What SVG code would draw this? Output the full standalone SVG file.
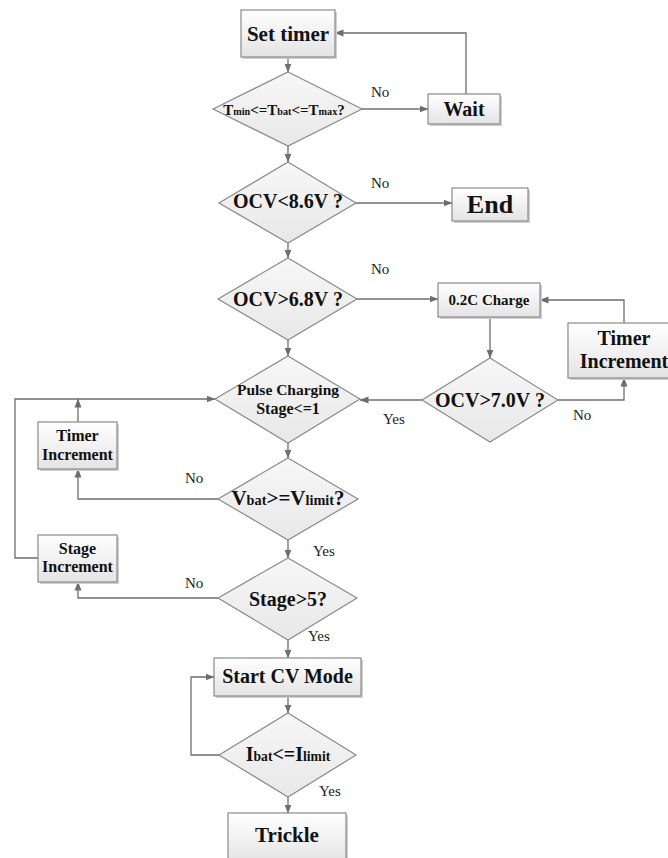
<svg xmlns="http://www.w3.org/2000/svg" width="668" height="858" viewBox="0 0 668 858">
<defs>
<linearGradient id="gb" x1="0" y1="0" x2="0" y2="1">
<stop offset="0" stop-color="#ffffff"/>
<stop offset="1" stop-color="#e4e4e4"/>
</linearGradient>
<linearGradient id="gd" x1="0" y1="0" x2="0" y2="1">
<stop offset="0" stop-color="#f7f7f7"/>
<stop offset="1" stop-color="#e8e8e8"/>
</linearGradient>
<marker id="ah" markerWidth="9" markerHeight="8" refX="8.5" refY="4" orient="auto" markerUnits="userSpaceOnUse">
<path d="M0,0.5 L9,4 L0,7.5 Z" fill="#6e6e6e"/>
</marker>
</defs>
<style>
.box{fill:url(#gb);stroke:#8a8a8a;stroke-width:1.2}
.sh{fill:#d0d0d0}
.dia{fill:url(#gd);stroke:#8a8a8a;stroke-width:1.2}
.c{fill:none;stroke:#6e6e6e;stroke-width:1.3;marker-end:url(#ah)}
.t{font-family:"Liberation Serif","Times New Roman",serif;font-weight:bold;fill:#111;text-anchor:middle}
.l{font-family:"Liberation Serif","Times New Roman",serif;font-size:15px;fill:#222}
.s{font-size:0.68em}
</style>
<rect width="668" height="858" fill="#ffffff"/>

<g id="connectors">
<path class="c" d="M288,57 V72"/>
<path class="c" d="M362,109 H428"/>
<path class="c" d="M466,94 V33 H335"/>
<path class="c" d="M288,146 V162"/>
<path class="c" d="M356,203 H452"/>
<path class="c" d="M288,243 V258"/>
<path class="c" d="M357,299 H438"/>
<path class="c" d="M490,317 V358"/>
<path class="c" d="M558,400 H624 V378"/>
<path class="c" d="M624,323 V300 H540"/>
<path class="c" d="M422,400 H360"/>
<path class="c" d="M288,340 V356"/>
<path class="c" d="M288,443 V458"/>
<path class="c" d="M218,499 H78 V469"/>
<path class="c" d="M78,422 V399"/>
<path class="c" d="M38,558 H15 V399 H215"/>
<path class="c" d="M288,540 V558"/>
<path class="c" d="M218,598 H78 V582"/>
<path class="c" d="M288,640 V658"/>
<path class="c" d="M288,696 V713"/>
<path class="c" d="M219,755 H191 V677 H214"/>
<path class="c" d="M288,797 V813"/>
</g>

<g id="labels">
<text class="l" x="371" y="97">No</text>
<text class="l" x="371" y="188">No</text>
<text class="l" x="371" y="274">No</text>
<text class="l" x="573" y="420">No</text>
<text class="l" x="383" y="424">Yes</text>
<text class="l" x="185" y="483">No</text>
<text class="l" x="313" y="556">Yes</text>
<text class="l" x="185" y="588">No</text>
<text class="l" x="308" y="641">Yes</text>
<text class="l" x="319" y="796">Yes</text>
</g>

<g id="set-timer">
<rect class="sh" x="243" y="12" width="94" height="47"/>
<rect class="box" x="241" y="10" width="94" height="47"/>
<text class="t" x="288" y="41" font-size="21">Set timer</text>
</g>

<g id="temp-check">
<polygon class="dia" points="288,72 362,109 288,146 213,109"/>
<text class="t" x="284" y="115" font-size="15">T<tspan class="s">min</tspan>&lt;=T<tspan class="s">bat</tspan>&lt;=T<tspan class="s">max</tspan>?</text>
</g>

<g id="wait">
<rect class="sh" x="430" y="96" width="72" height="30"/>
<rect class="box" x="428" y="94" width="72" height="30"/>
<text class="t" x="464" y="116" font-size="20">Wait</text>
</g>

<g id="ocv-86">
<polygon class="dia" points="288,162 356,203 288,243 219,203"/>
<text class="t" x="288" y="208" font-size="20">OCV&lt;8.6V ?</text>
</g>

<g id="end">
<rect class="sh" x="454" y="190" width="76" height="33"/>
<rect class="box" x="452" y="188" width="76" height="33"/>
<text class="t" x="490" y="213" font-size="26">End</text>
</g>

<g id="ocv-68">
<polygon class="dia" points="288,258 357,299 288,340 218,299"/>
<text class="t" x="288" y="306" font-size="20">OCV&gt;6.8V ?</text>
</g>

<g id="charge-02c">
<rect class="sh" x="440" y="285" width="102" height="34"/>
<rect class="box" x="438" y="283" width="102" height="34"/>
<text class="t" x="489" y="305" font-size="15">0.2C Charge</text>
</g>

<g id="timer-inc-right">
<rect class="sh" x="570" y="325" width="115" height="55"/>
<rect class="box" x="568" y="323" width="115" height="55"/>
<text class="t" x="624" y="345" font-size="20">Timer</text>
<text class="t" x="624" y="368" font-size="20">Increment</text>
</g>

<g id="ocv-70">
<polygon class="dia" points="490,358 558,400 490,442 422,400"/>
<text class="t" x="490" y="407" font-size="20">OCV&gt;7.0V ?</text>
</g>

<g id="pulse">
<polygon class="dia" points="288,356 360,399 288,443 215,399"/>
<text class="t" x="288" y="395" font-size="15.5">Pulse Charging</text>
<text class="t" x="288" y="414" font-size="16">Stage&lt;=1</text>
</g>

<g id="timer-inc-left">
<rect class="sh" x="40" y="424" width="79" height="47"/>
<rect class="box" x="38" y="422" width="79" height="47"/>
<text class="t" x="77.5" y="441" font-size="16">Timer</text>
<text class="t" x="77.5" y="460" font-size="16">Increment</text>
</g>

<g id="vbat">
<polygon class="dia" points="288,458 358,499 288,540 218,499"/>
<text class="t" x="288" y="505" font-size="21">V<tspan class="s">bat</tspan>&gt;=V<tspan class="s">limit</tspan>?</text>
</g>

<g id="stage-inc">
<rect class="sh" x="40" y="537" width="79" height="47"/>
<rect class="box" x="38" y="535" width="79" height="47"/>
<text class="t" x="77.5" y="554" font-size="16">Stage</text>
<text class="t" x="77.5" y="572" font-size="16">Increment</text>
</g>

<g id="stage-check">
<polygon class="dia" points="288,558 357,598 288,640 218,598"/>
<text class="t" x="288" y="606" font-size="20">Stage&gt;5?</text>
</g>

<g id="start-cv">
<rect class="sh" x="216" y="660" width="147" height="38"/>
<rect class="box" x="214" y="658" width="147" height="38"/>
<text class="t" x="287.5" y="683" font-size="20">Start CV Mode</text>
</g>

<g id="ibat">
<polygon class="dia" points="288,713 356,755 288,797 219,755"/>
<text class="t" x="288" y="761" font-size="20">I<tspan class="s">bat</tspan>&lt;=I<tspan class="s">limit</tspan></text>
</g>

<g id="trickle">
<rect class="sh" x="230" y="815" width="118" height="50"/>
<rect class="box" x="228" y="813" width="118" height="50"/>
<text class="t" x="287" y="842" font-size="21">Trickle</text>
</g>
</svg>
